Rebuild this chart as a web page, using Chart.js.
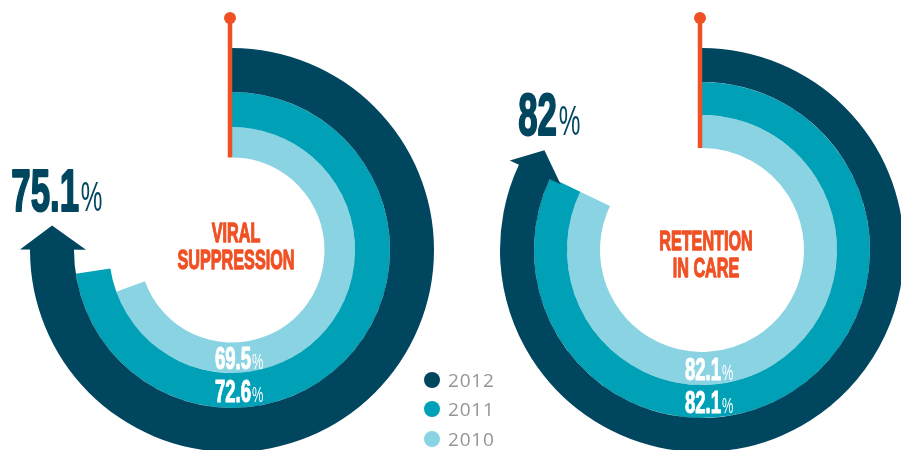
<!DOCTYPE html>
<html>
<head>
<meta charset="utf-8">
<script src="https://cdn.jsdelivr.net/npm/chart.js@4.4.1/dist/chart.umd.min.js"></script>
<style>
  html, body { margin: 0; padding: 0; width: 901px; height: 450px; overflow: hidden; background: #fff; }
  .ring { position: absolute; width: 520px; height: 520px; }
  #ringLeft { left: -28px; top: -10px; }
  #ringRight { left: 442px; top: -10px; }
  #legend { position: absolute; left: 424px; top: 365px; font-family: "Open Sans", Lato, sans-serif; font-size: 19px; color: #939598; letter-spacing: 0.8px; }
  .row { height: 29.5px; display: flex; align-items: center; }
  .dot { width: 16px; height: 16px; border-radius: 50%; margin-right: 8px; }
</style>
</head>
<body>
<div class="ring" id="ringLeft"><canvas id="chartLeft"></canvas></div>
<div class="ring" id="ringRight"><canvas id="chartRight"></canvas></div>
<div id="legend"></div>
<script>
// datos (de fuera hacia dentro: 2012, 2011, 2010)
const years = ['2012', '2011', '2010'];
const viralSuppression = [75.1, 72.6, 69.5];
const retentionInCare = [82, 82.1, 82.1];
const titleViral = ['VIRAL', 'SUPPRESSION'];
const titleRetention = ['RETENTION', 'IN CARE'];

const ringColors = ['#00465f', '#00a0b7', '#89d3e2'];
const orange = '#f05124';
const FONT = '"Liberation Sans", Arial, sans-serif';
const SQUEEZE = 0.58;

// texto en negrita condensada: se estrecha con scale y se engorda con un trazo
function boldText(ctx, text, x, y, color, stroke) {
    ctx.fillStyle = color;
    ctx.strokeStyle = color;
    ctx.lineWidth = stroke;
    ctx.lineJoin = 'round';
    ctx.fillText(text, x, y);
    ctx.strokeText(text, x, y);
}

function drawPct(ctx, num, x, y, size, color, centerNumberOnly) {
    ctx.save();
    ctx.translate(x, y);
    ctx.scale(SQUEEZE, 1);
    ctx.textAlign = 'left';
    ctx.textBaseline = 'alphabetic';
    const boldFont = 'bold ' + size + 'px ' + FONT;
    const thinFont = Math.round(size * 0.7) + 'px ' + FONT;
    ctx.font = boldFont;
    const wn = ctx.measureText(num).width;
    ctx.font = thinFont;
    const wp = ctx.measureText('%').width;
    const x0 = centerNumberOnly ? -wn / 2 : -(wn + wp) / 2;
    ctx.font = boldFont;
    boldText(ctx, num, x0, 0, color, size * 0.035);
    ctx.font = thinFont;
    ctx.fillStyle = color;
    ctx.fillText('%', x0 + wn + size * 0.05, 0);
    ctx.restore();
}

const ringDecor = {
    id: 'ringDecor',
    afterDraw(chart, args, opts) {
        const ctx = chart.ctx;
        const n = chart.data.datasets.length;
        const outer = chart.getDatasetMeta(0).data[0].getProps(['x', 'y', 'endAngle', 'innerRadius', 'outerRadius'], true);
        const inner = chart.getDatasetMeta(n - 1).data[0].getProps(['innerRadius'], true);
        const cx = outer.x, cy = outer.y;

        // marcador naranja
        ctx.save();
        ctx.strokeStyle = orange;
        ctx.fillStyle = orange;
        ctx.lineWidth = 4.5;
        ctx.beginPath();
        ctx.moveTo(cx - 2, cy - outer.outerRadius - 30);
        ctx.lineTo(cx - 2, cy - inner.innerRadius);
        ctx.stroke();
        ctx.beginPath();
        ctx.arc(cx - 2, cy - outer.outerRadius - 30, 6, 0, Math.PI * 2);
        ctx.fill();
        ctx.restore();

        // punta de flecha al final del anillo exterior
        const a = outer.endAngle - 0.004;
        const rOut = outer.outerRadius + 10;
        const rIn = outer.innerRadius - 12;
        const rMid = (outer.outerRadius + outer.innerRadius) / 2;
        const dx = -Math.sin(a), dy = Math.cos(a);
        const len = 24;
        const tipX = cx + rMid * Math.cos(a) + len * dx;
        const tipY = cy + rMid * Math.sin(a) + len * dy;
        ctx.save();
        ctx.fillStyle = ringColors[0];
        ctx.beginPath();
        ctx.moveTo(cx + rOut * Math.cos(a), cy + rOut * Math.sin(a));
        ctx.lineTo(tipX, tipY);
        ctx.lineTo(cx + rIn * Math.cos(a), cy + rIn * Math.sin(a));
        ctx.closePath();
        ctx.fill();
        ctx.restore();

        const values = chart.data.datasets.map(d => d.data[0]);

        // valor grande junto a la flecha
        drawPct(ctx, String(values[0]), tipX + 4, tipY - 15, 60, ringColors[0], false);

        // titulo central
        ctx.save();
        ctx.textAlign = 'center';
        ctx.textBaseline = 'alphabetic';
        ctx.font = 'bold 27px ' + FONT;
        opts.title.forEach((line, i) => {
            ctx.save();
            ctx.translate(cx + 4, cy + opts.titleDy + i * 27);
            ctx.scale(0.6, 1);
            boldText(ctx, line, 0, 0, orange, 1.3);
            ctx.restore();
        });
        ctx.restore();

        // valores de 2011 y 2010 abajo, dentro de su anillo
        for (let i = 1; i < n; i++) {
            const arc = chart.getDatasetMeta(i).data[0].getProps(['innerRadius', 'outerRadius'], true);
            const midY = cy + (arc.innerRadius + arc.outerRadius) / 2;
            drawPct(ctx, String(values[i]), cx + 1, midY + 11, 32, '#ffffff', true);
        }
    }
};

function dibujarAnillos(id, values, title, geo) {
    return new Chart(document.getElementById(id), {
        type: 'doughnut',
        data: {
            labels: ['valor', 'resto'],
            datasets: values.map((v, i) => ({
                label: years[i],
                data: [v, 100 - v],
                backgroundColor: [ringColors[i], 'rgba(0,0,0,0)'],
                borderWidth: 0,
                hoverOffset: 0,
                weight: geo.weights[i]
            }))
        },
        options: {
            responsive: true,
            maintainAspectRatio: false,
            animation: false,
            events: [],
            radius: geo.radius,
            cutout: geo.cutout,
            layout: { padding: 0 },
            plugins: {
                legend: { display: false },
                tooltip: { enabled: false },
                ringDecor: { title: title, titleDy: geo.titleDy }
            }
        },
        plugins: [ringDecor]
    });
}

dibujarAnillos('chartLeft', viralSuppression, titleViral,
    { radius: 202, cutout: '45.8%', weights: [44, 35, 30.5], titleDy: -8 });
dibujarAnillos('chartRight', retentionInCare, titleRetention,
    { radius: 202, cutout: '50.5%', weights: [34, 33, 33], titleDy: 0 });

// leyenda
const legend = document.getElementById('legend');
years.forEach((y, i) => {
    const row = document.createElement('div');
    row.className = 'row';
    row.innerHTML = '<span class="dot" style="background:' + ringColors[i] + '"></span><span>' + y + '</span>';
    legend.appendChild(row);
});
</script>
</body>
</html>
